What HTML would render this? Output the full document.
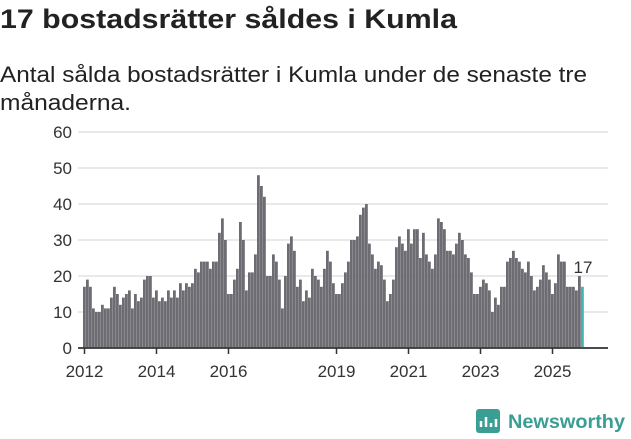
<!DOCTYPE html>
<html><head><meta charset="utf-8"><style>
body{margin:0;background:#fff;font-family:"Liberation Sans",sans-serif;}
#wrap{position:relative;width:631px;height:439px;overflow:hidden;}
</style></head><body>
<div id="wrap">
<svg width="631" height="439">
<text x="0" y="28" font-size="27" font-weight="bold" fill="#222" textLength="457" lengthAdjust="spacingAndGlyphs">17 bostadsrätter såldes i Kumla</text>
<text x="0" y="82" font-size="22" fill="#222" textLength="587" lengthAdjust="spacingAndGlyphs">Antal sålda bostadsrätter i Kumla under de senaste tre</text>
<text x="0" y="110" font-size="22" fill="#222" textLength="131" lengthAdjust="spacingAndGlyphs">månaderna.</text>
<g id="grid"></g><g id="bars"></g><g id="xaxis"></g>
<g>
<rect x="476" y="409" width="24" height="24" rx="3" fill="#3a9e94"/>
<path d="M481 427v-6M486 427v-10M491 427v-4M496 427v-8" stroke="#fff" stroke-width="2.5"/>
<text x="508" y="428" font-size="19" font-weight="bold" fill="#3a9e94" textLength="117" lengthAdjust="spacingAndGlyphs">Newsworthy</text>
</g>
</svg>
</div>
<script>
const values=[17,19,17,11,10,10,12,11,11,14,17,15,
12,14,15,16,11,15,13,14,19,20,20,14,
16,13,14,13,16,14,16,14,18,16,18,17,
18,22,21,24,24,24,22,24,24,32,36,30,
15,15,19,22,35,30,16,21,21,26,48,45,42,20,
20,26,24,19,11,20,29,31,27,17,19,13,16,14,22,20,19,17,22,27,24,18,
15,15,18,21,24,30,30,31,37,39,40,29,26,22,24,23,19,13,15,19,28,31,29,27,
33,29,33,33,25,32,26,24,22,26,36,35,33,27,27,26,29,32,30,26,25,21,15,15,
17,19,18,16,10,14,12,17,17,24,25,27,25,24,22,21,24,20,16,17,19,23,21,19,
15,18,26,24,24,17,17,17,16,20,17];
const yTicks=[0,10,20,30,40,50,60];
const xLabels=["2012","2014","2016","2019","2021","2023","2025"];
const xLabelIdx=[0,24,48,84,108,132,156];
const ns="http://www.w3.org/2000/svg";
const y0=348,yTop=132,x0=83,step=3;
const ys=v=>y0-(v/60)*(y0-yTop);
const xs=i=>x0+i*step;
function mk(t,a,p){const e=document.createElementNS(ns,t);for(const k in a)e.setAttribute(k,a[k]);p.appendChild(e);return e;}
const g=document.getElementById('grid');
yTicks.forEach(v=>{
 const l=mk('line',{x1:78,x2:608,y1:ys(v),y2:ys(v),stroke:v?'#e2e2e2':'#333','stroke-width':1.5},g);
 
 
 const t=mk('text',{x:72,y:ys(v)+6,'font-size':17,'text-anchor':'end',fill:'#333'},g);
 t.textContent=v;
 
 
});
const b=document.getElementById('bars');
values.forEach((v,i)=>{
 const last=i===values.length-1;
 const r=mk('rect',{x:xs(i),y:ys(v),width:2.8,height:y0-ys(v),fill:last?'#3fb6b0':'#6d6c72'},b);
 
 
});
const li=values.length-1;
const lt=mk('text',{x:xs(li)+2,y:ys(values[li])-14,'font-size':17,'text-anchor':'middle',fill:'#333'},b);
lt.textContent=values[li];


const xa=document.getElementById('xaxis');
mk('line',{x1:78,x2:608,y1:y0,y2:y0,stroke:'#333','stroke-width':1.5},xa);
xLabels.forEach((s,j)=>{
 const cx=xs(xLabelIdx[j])+1.5;
 const tk=mk('line',{x1:cx,x2:cx,y1:y0,y2:y0+6,stroke:'#333','stroke-width':1.5},xa);
 
 
 const t=mk('text',{x:cx,y:377,'font-size':17,'text-anchor':'middle',fill:'#333'},xa);
 t.textContent=s;
 
 
});
</script>
</body></html>
